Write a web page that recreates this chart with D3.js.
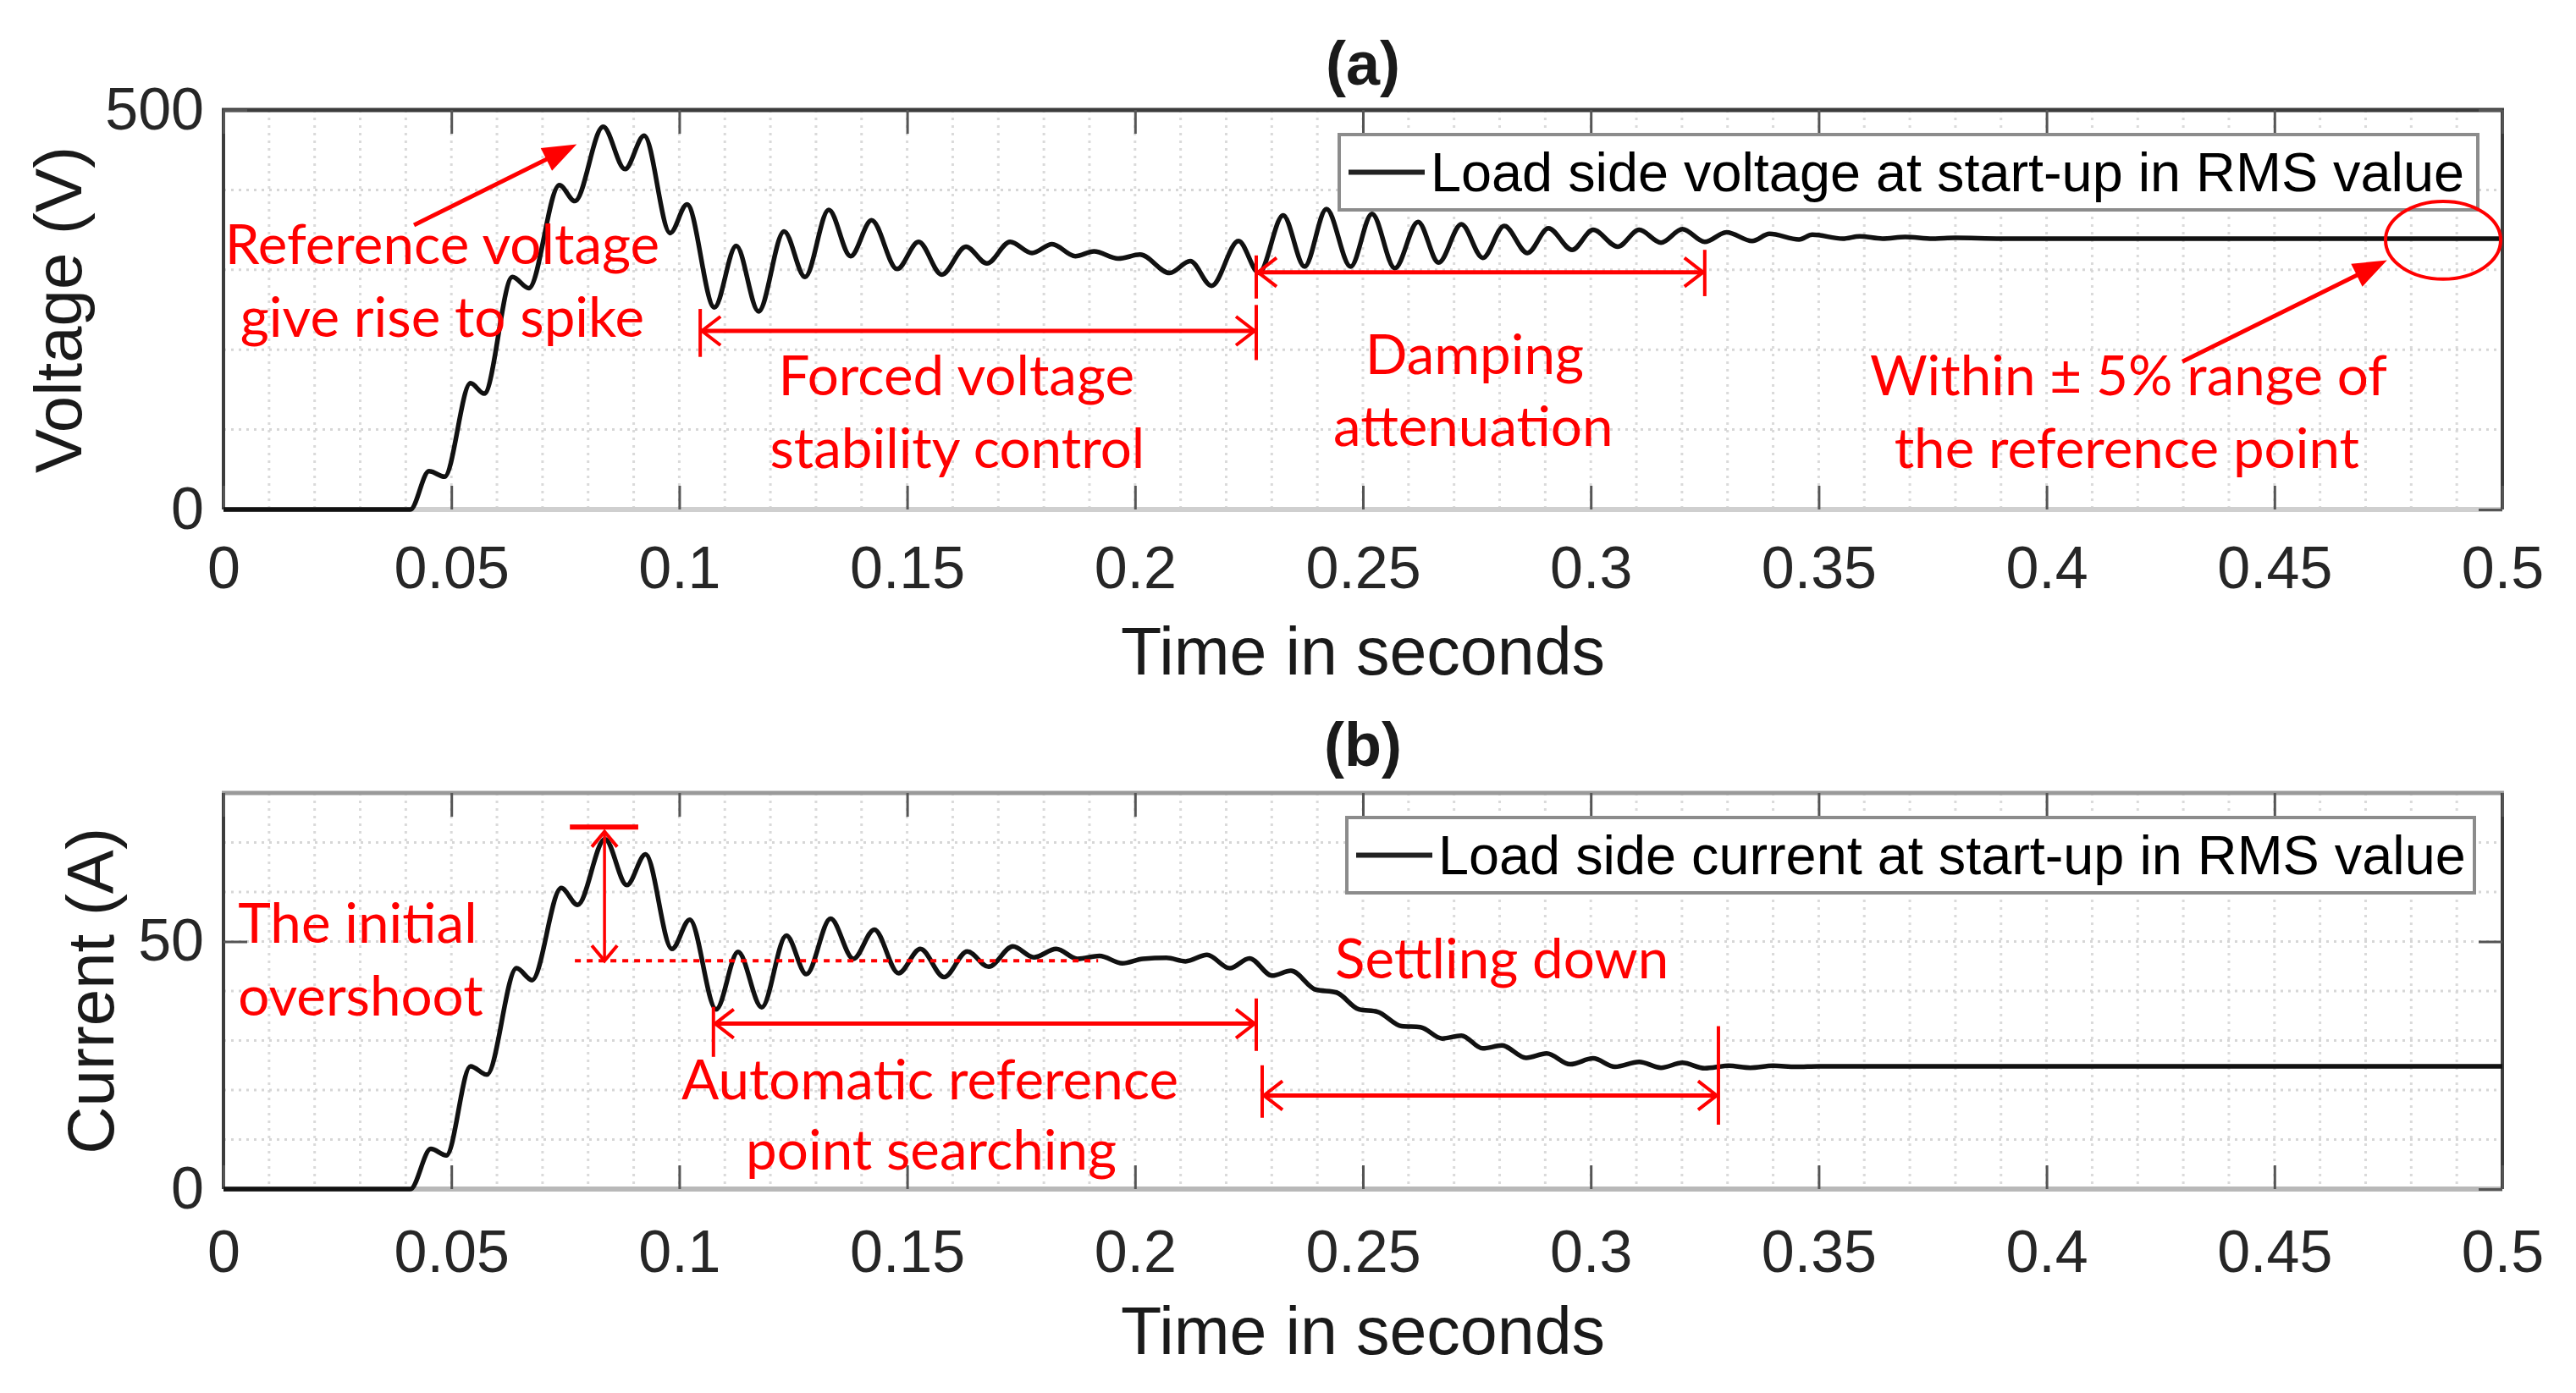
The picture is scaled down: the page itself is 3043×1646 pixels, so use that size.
<!DOCTYPE html>
<html><head><meta charset="utf-8">
<script src="https://cdn.jsdelivr.net/npm/d3@7"></script>
<style>html,body{margin:0;padding:0;background:#fff;}svg{display:block;}</style>
</head><body><svg id="c" width="3043" height="1646"></svg>
<script>
// ---------------- data ----------------
const voltTime  = [0,0.041,0.0451,0.0485,0.0542,0.0572,0.0634,0.067,0.0737,0.0771,0.0833,0.0881,0.0923,0.098,0.1017,0.1077,0.1125,0.1174,0.123,0.1276,0.1328,0.1376,0.1422,0.1478,0.1525,0.1576,0.1629,0.1675,0.1726,0.1774,0.1818,0.1869,0.191,0.1963,0.2011,0.2076,0.2121,0.2168,0.2227,0.2272,0.2325,0.2372,0.242,0.2473,0.252,0.257,0.2621,0.2666,0.2716,0.2763,0.281,0.2861,0.2907,0.2959,0.3005,0.3059,0.3106,0.3154,0.3201,0.325,0.3298,0.3354,0.3392,0.3457,0.3486,0.3553,0.359,0.364,0.369,0.375,0.38,0.39,0.5];
const voltValue = [0,0,48,41,158,145,291,277,406,386,479,426,468,346,382,253,330,248,348,291,375,317,362,301,335,294,329,308,335,321,332,317,323,314,319,296,311,280,336,296,368,304,376,304,370,302,360,309,357,315,355,321,352,325,350,329,350,334,351,335,347,336,345,338,344,339,342,339,341,339,340,339,339];
const currTime  = [0,0.041,0.0455,0.0489,0.0542,0.0578,0.0643,0.0677,0.0741,0.0777,0.0837,0.0885,0.0926,0.0984,0.1023,0.1081,0.1129,0.1181,0.1235,0.1279,0.1332,0.1382,0.1428,0.1481,0.1529,0.1581,0.1632,0.1679,0.1732,0.1778,0.1827,0.1874,0.1922,0.1972,0.2017,0.2069,0.2111,0.2158,0.2208,0.2251,0.2301,0.2342,0.2396,0.2442,0.2491,0.2532,0.2585,0.2626,0.2674,0.2716,0.2763,0.2805,0.2858,0.2903,0.2955,0.3005,0.3053,0.3106,0.3154,0.3201,0.325,0.3302,0.335,0.34,0.345,0.35,0.5];
const currValue = [0,0,8.1,6.8,24.8,23.1,44.6,42.2,60.8,57.4,70.7,61.4,67.6,48.5,54.4,36.3,47.9,36.7,51.2,43.4,54.6,46.5,52.4,43.6,48.5,42.8,48,44.9,49,46.8,48.5,46.5,47.1,45.6,46.5,46.7,46,47.3,44.6,46.6,43.1,44.1,40.3,39.7,36.3,35.8,32.9,32.7,30.4,31,28.4,29,26.5,27.4,25.2,26.4,24.7,25.7,24.5,25.5,24.4,24.9,24.5,24.9,24.7,24.8,24.8];

const xTickValues = [0,0.05,0.1,0.15,0.2,0.25,0.3,0.35,0.4,0.45,0.5];
const xTickLabels = ["0","0.05","0.1","0.15","0.2","0.25","0.3","0.35","0.4","0.45","0.5"];
const voltTickValues = [0,500], voltTickLabels = ["0","500"];
const currTickValues = [0,50],  currTickLabels = ["0","50"];
const panelTitles = ["(a)","(b)"];
const xAxisTitle = "Time in seconds";
const voltAxisTitle = "Voltage (V)", currAxisTitle = "Current (A)";
const voltLegend = "Load side voltage at start-up in RMS value";
const currLegend = "Load side current at start-up in RMS value";

// annotations (data units)
const voltNotes = [
  {text:"Reference voltage", t:0.048, v:307},
  {text:"give rise to spike", t:0.048, v:216},
  {text:"Forced voltage", t:0.1608, v:143},
  {text:"stability control", t:0.161, v:52},
  {text:"Damping", t:0.2745, v:169},
  {text:"attenuation", t:0.2742, v:79},
  {text:"Within \u00B1 5% range of", t:0.418, v:143},
  {text:"the reference point", t:0.4176, v:52}
];
const currNotes = [
  {text:"The initial", t:0.0032, v:49.7, anchor:"start"},
  {text:"overshoot", t:0.0032, v:35, anchor:"start"},
  {text:"Automatic reference", t:0.155, v:18.2},
  {text:"point searching", t:0.1553, v:3.9},
  {text:"Settling down", t:0.2805, v:42.6}
];
const voltSpans = [
  {t1:0.1046, t2:0.2266, v:223.5, b1:[191,251], b2:[187,256]},
  {t1:0.2266, t2:0.325,  v:297,   b1:[264,318], b2:[267,325]}
];
const currSpans = [
  {t1:0.1075, t2:0.2266, v:33.4, b1:[26.7,36.8], b2:[27.9,38.5]},
  {t1:0.2279, t2:0.328,  v:18.9, b1:[14.4,25],   b2:[13,32.9]}
];
const voltPointers = [
  {t1:0.0418, v1:356, t2:0.0775, v2:457},
  {t1:0.4298, v1:185, t2:0.4747, v2:312}
];
const voltEllipse = {t:0.487, v:337, rt:0.01263, rv:48.7};
const overshootBar = {t1:0.076, t2:0.091, v:73.1};
const overshootArrow = {t:0.0836, v1:72.2, v2:46.1};
const overshootRef = {t1:0.0771, t2:0.1919, v:46.1};

// ---------------- drawing ----------------
const svg = d3.select("#c");
const RED = "#ff0000";
const AX_FONT = "'Liberation Sans', Arial, Helvetica, sans-serif";
const NOTE_FONT = "Lato, 'Open Sans', sans-serif";

const x = d3.scaleLinear().domain([0,0.5]).range([264,2956]);
const yV = d3.scaleLinear().domain([0,500]).range([602,130]);
const yA = d3.scaleLinear().domain([0,80]).range([1405,937]);

function panel(y, yTicks, yLabels, gridStep, yMax, opts) {
  const g = svg.append("g");
  const [y0, y1] = y.range();
  const gx = d3.range(1,50).map(i=>i/100);
  g.selectAll(".gv").data(gx).join("line")
    .attr("x1",d=>x(d)).attr("x2",d=>x(d)).attr("y1",y1).attr("y2",y0)
    .attr("stroke","#dadada").attr("stroke-width",3).attr("stroke-dasharray","3,6");
  const gy = d3.range(gridStep, yMax, gridStep);
  g.selectAll(".gh").data(gy).join("line")
    .attr("x1",x(0)).attr("x2",x(0.5)).attr("y1",d=>y(d)).attr("y2",d=>y(d))
    .attr("stroke","#d6d6d6").attr("stroke-width",3).attr("stroke-dasharray","3,6");
  g.append("line").attr("x1",x(0)).attr("x2",x(0.5)).attr("y1",y0).attr("y2",y0)
    .attr("stroke",opts.bottomColor).attr("stroke-width",6);
  g.append("line").attr("x1",x(0)-2).attr("x2",x(0.5)+2).attr("y1",y1).attr("y2",y1)
    .attr("stroke",opts.topColor).attr("stroke-width",5);
  g.append("line").attr("x1",x(0)).attr("x2",x(0)).attr("y1",y1).attr("y2",y0)
    .attr("stroke","#3c3c3c").attr("stroke-width",4);
  g.append("line").attr("x1",x(0.5)).attr("x2",x(0.5)).attr("y1",y1).attr("y2",y0)
    .attr("stroke","#3c3c3c").attr("stroke-width",4);
  const styleAxis = sel => {
    sel.select(".domain").remove();
    sel.selectAll(".tick line").attr("stroke","#555").attr("stroke-width",3);
    sel.selectAll(".tick text").attr("fill","#262626").attr("font-family",AX_FONT).attr("font-size",70);
  };
  g.append("g").attr("transform",`translate(0,${y0})`)
    .call(d3.axisBottom(x).tickValues(xTickValues).tickSize(-28).tickPadding(opts.xPad)
      .tickFormat((d,i)=>xTickLabels[i])).call(styleAxis);
  g.append("g").attr("transform",`translate(0,${y1})`)
    .call(d3.axisTop(x).tickValues(xTickValues).tickSize(-28).tickFormat("")).call(styleAxis);
  g.append("g").attr("transform",`translate(${x(0)},0)`)
    .call(d3.axisLeft(y).tickValues(yTicks).tickSize(-28).tickPadding(23)
      .tickFormat((d,i)=>yLabels[i])).call(styleAxis);
  g.append("g").attr("transform",`translate(${x(0.5)},0)`)
    .call(d3.axisRight(y).tickValues(yTicks).tickSize(-28).tickFormat("")).call(styleAxis);
  return g;
}

function drawCurve(g, y, ts, vs) {
  const pts = ts.map((t,i)=>[t, vs[i]]);
  g.append("path").datum(pts)
    .attr("d", d3.line().x(d=>x(d[0])).y(d=>y(d[1])).curve(d3.curveMonotoneX))
    .attr("fill","none").attr("stroke","#111").attr("stroke-width",5.5)
    .attr("stroke-linejoin","round");
}

function legend(g, y, text, box) {
  const lg = g.append("g");
  lg.append("rect").attr("x",box.x).attr("y",box.y).attr("width",box.w).attr("height",box.h)
    .attr("fill","#fff").attr("stroke","#8c8c8c").attr("stroke-width",4);
  const cy = box.y + box.h/2;
  lg.append("line").attr("x1",box.x+11).attr("x2",box.x+101).attr("y1",cy).attr("y2",cy)
    .attr("stroke","#222").attr("stroke-width",6);
  lg.append("text").attr("x",box.x+108).attr("y",cy).attr("dy","0.35em")
    .attr("font-family",AX_FONT).attr("font-size",64.8).attr("fill","#000").text(text);
}

function notes(g, y, arr) {
  g.selectAll(null).data(arr).join("text")
    .attr("x",d=>x(d.t)).attr("y",d=>y(d.v))
    .attr("text-anchor",d=>d.anchor||"middle")
    .attr("font-family",NOTE_FONT).attr("font-size",65.5).attr("fill",RED)
    .text(d=>d.text);
}

function openHead(g, px, py, dir, len, half) {
  const [dx,dy] = dir, nx = -dy, ny = dx;
  g.append("path")
    .attr("d",`M${px-dx*len+nx*half},${py-dy*len+ny*half}L${px},${py}L${px-dx*len-nx*half},${py-dy*len-ny*half}`)
    .attr("fill","none").attr("stroke",RED).attr("stroke-width",4);
}

function spans(g, y, arr) {
  arr.forEach(s=>{
    const a = x(s.t1), b = x(s.t2), yy = y(s.v);
    g.append("line").attr("x1",a).attr("x2",b).attr("y1",yy).attr("y2",yy)
      .attr("stroke",RED).attr("stroke-width",5);
    g.append("line").attr("x1",a).attr("x2",a).attr("y1",y(s.b1[0])).attr("y2",y(s.b1[1]))
      .attr("stroke",RED).attr("stroke-width",4);
    g.append("line").attr("x1",b).attr("x2",b).attr("y1",y(s.b2[0])).attr("y2",y(s.b2[1]))
      .attr("stroke",RED).attr("stroke-width",4);
    openHead(g, a+2, yy, [-1,0], 22, 17);
    openHead(g, b-2, yy, [1,0], 22, 17);
  });
}

function pointers(g, y, arr) {
  arr.forEach(p=>{
    const x1=x(p.t1), y1=y(p.v1), x2=x(p.t2), y2=y(p.v2);
    const L = Math.hypot(x2-x1,y2-y1), ux=(x2-x1)/L, uy=(y2-y1)/L;
    const hl=40, hw=15, bx=x2-ux*hl, by=y2-uy*hl;
    g.append("line").attr("x1",x1).attr("y1",y1).attr("x2",bx+ux*4).attr("y2",by+uy*4)
      .attr("stroke",RED).attr("stroke-width",5);
    g.append("path").attr("d",`M${x2},${y2}L${bx-uy*hw},${by+ux*hw}L${bx+uy*hw},${by-ux*hw}Z`)
      .attr("fill",RED);
  });
}

// panel (a)
const gA = panel(yV, voltTickValues, voltTickLabels, 100, 500,
  {bottomColor:"#cfcfcf", topColor:"#3c3c3c", xPad:43});
drawCurve(gA, yV, voltTime, voltValue);
legend(gA, yV, voltLegend, {x:1582, y:159, w:1345, h:89});
notes(gA, yV, voltNotes);
spans(gA, yV, voltSpans);
pointers(gA, yV, voltPointers);
gA.append("ellipse").attr("cx",x(voltEllipse.t)).attr("cy",yV(voltEllipse.v))
  .attr("rx",x(voltEllipse.rt)-x(0)).attr("ry",yV(0)-yV(voltEllipse.rv))
  .attr("fill","none").attr("stroke",RED).attr("stroke-width",4);

// panel (b)
const gB = panel(yA, currTickValues, currTickLabels, 10, 80,
  {bottomColor:"#b8b8b8", topColor:"#9a9a9a", xPad:48});
drawCurve(gB, yA, currTime, currValue);
legend(gB, yA, currLegend, {x:1591, y:966, w:1332, h:89});
notes(gB, yA, currNotes);
spans(gB, yA, currSpans);
gB.append("line").attr("x1",x(overshootBar.t1)).attr("x2",x(overshootBar.t2))
  .attr("y1",yA(overshootBar.v)).attr("y2",yA(overshootBar.v))
  .attr("stroke",RED).attr("stroke-width",6);
gB.append("line").attr("x1",x(overshootRef.t1)).attr("x2",x(overshootRef.t2))
  .attr("y1",yA(overshootRef.v)).attr("y2",yA(overshootRef.v))
  .attr("stroke",RED).attr("stroke-width",4).attr("stroke-dasharray","7,7");
{
  const ax = x(overshootArrow.t), ya = yA(overshootArrow.v1), yb = yA(overshootArrow.v2);
  gB.append("line").attr("x1",ax).attr("x2",ax).attr("y1",ya).attr("y2",yb)
    .attr("stroke",RED).attr("stroke-width",3.5);
  openHead(gB, ax, ya, [0,-1], 18, 15);
  openHead(gB, ax, yb, [0,1], 18, 15);
}

// titles & axis labels
const txt = (xx, yy, s, size, weight, rot) => {
  const t = svg.append("text").attr("font-family",AX_FONT).attr("font-size",size)
    .attr("font-weight",weight||"normal").attr("fill","#1a1a1a").attr("text-anchor","middle").text(s);
  if (rot) t.attr("transform",`translate(${xx},${yy}) rotate(-90)`);
  else t.attr("x",xx).attr("y",yy);
  return t;
};
const xMid = (x(0)+x(0.5))/2;
txt(xMid, 100, panelTitles[0], 72, "bold");
txt(xMid, 905, panelTitles[1], 72, "bold");
txt(xMid, 797, xAxisTitle, 79);
txt(xMid, 1600, xAxisTitle, 79);
txt(96, (yV(0)+yV(500))/2, voltAxisTitle, 78, null, true);
txt(134, (yA(0)+yA(80))/2, currAxisTitle, 78, null, true);
</script></body></html>
